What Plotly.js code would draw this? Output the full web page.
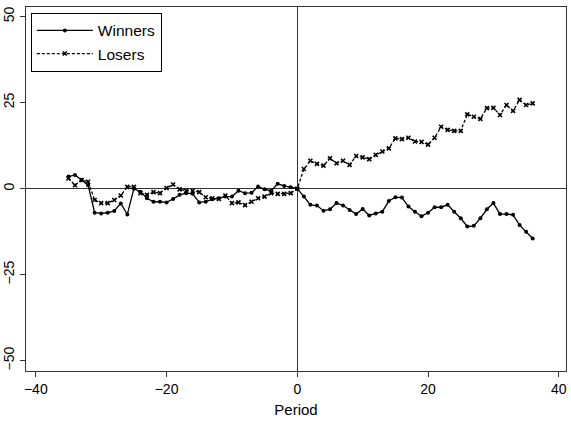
<!DOCTYPE html>
<html>
<head>
<meta charset="utf-8">
<script src="https://cdn.plot.ly/plotly-3.0.1.min.js"></script>
<style>html,body{margin:0;padding:0;background:#fff;}#chart{width:571px;height:423px;}</style>
</head>
<body>
<div id="chart"></div>
<script>
const periods = [-35,-34,-33,-32,-31,-30,-29,-28,-27,-26,-25,-24,-23,-22,-21,-20,-19,-18,-17,-16,-15,-14,-13,-12,-11,-10,-9,-8,-7,-6,-5,-4,-3,-2,-1,0,1,2,3,4,5,6,7,8,9,10,11,12,13,14,15,16,17,18,19,20,21,22,23,24,25,26,27,28,29,30,31,32,33,34,35,36];
const winners = [3.5,4,2.5,1,-7,-7.2,-7,-6.5,-4.3,-7.5,0,-0.9,-2.8,-3.8,-3.8,-4,-3,-1.8,-1.3,-1.5,-4,-3.8,-3.1,-2.8,-2.3,-2.3,-0.6,-1.3,-1.2,0.6,-0.2,-0.6,1.4,0.8,0.4,0,-2.3,-4.7,-4.9,-6.4,-6,-4.2,-4.9,-6.2,-7.4,-5.9,-7.8,-7.2,-6.7,-3.6,-2.5,-2.6,-5.2,-6.7,-8,-7,-5.4,-5.4,-4.7,-6.7,-8.6,-11,-10.8,-8.6,-6,-4.2,-7.4,-7.4,-7.6,-10.6,-12.5,-14.5];
const losers = [3,1,2.5,2,-3.3,-4.2,-4.2,-3.3,-2,0.5,0.5,-1.3,-1.8,-1,-1.3,0.2,1.2,-0.2,-0.6,-0.6,-1,-2.5,-2.8,-3,-2,-4.2,-4,-4.8,-3.8,-2.8,-2.3,-1.3,-1.5,-1.5,-1.3,0,5.7,8.1,7.2,6.7,8.8,7.4,8.1,6.9,9.5,9.1,8.6,9.8,10.8,11.7,14.6,14.4,14.8,13.7,13.6,12.8,14.8,18,17.1,16.8,16.8,21.6,20.9,20.3,23.4,23.5,21.4,24.3,22.6,25.8,24.3,24.8];
const xTicks = [-40,-20,0,20,40];
const yTicks = [-50,-25,0,25,50];

const font = "Liberation Sans, Arial, Helvetica, sans-serif";
const data = [
  {x: periods, y: winners, name: "Winners", type: "scatter", mode: "lines+markers",
   line: {color: "#000", width: 1.3}, marker: {symbol: "circle", size: 4, color: "#000"}},
  {x: periods, y: losers, name: "Losers", type: "scatter", mode: "lines+markers",
   line: {color: "#000", width: 1.3, dash: "3px,2px"}, marker: {symbol: "x-thin-open", size: 4, color: "#000", line: {width: 1.6, color: "#000"}}}
];
const layout = {
  width: 571, height: 423,
  margin: {l: 26, r: 5, t: 7, b: 52},
  paper_bgcolor: "#fff", plot_bgcolor: "#fff",
  font: {family: font, color: "#000", size: 14},
  showlegend: true,
  legend: {x: 0.009, y: 0.984, xanchor: "left", yanchor: "top", bordercolor: "#000", borderwidth: 1,
           bgcolor: "#fff", font: {size: 15.5, family: font}, itemwidth: 56, tracegroupgap: 0},
  xaxis: {range: [-41.5, 41.1], tickvals: xTicks, ticktext: xTicks.map(v => v < 0 ? "\u2212" + Math.abs(v) : String(v)),
          showgrid: false, zeroline: true, zerolinecolor: "#333", zerolinewidth: 1.2,
          showline: true, mirror: true, linecolor: "#333", linewidth: 1,
          ticks: "outside", ticklen: 5, tickcolor: "#333", tickfont: {size: 14},
          title: {text: "Period", font: {size: 15}, standoff: 8}},
  yaxis: {range: [-53, 52.8], tickvals: yTicks, ticktext: yTicks.map(v => v < 0 ? "\u2212" + Math.abs(v) : String(v)),
          tickangle: -90, showgrid: false, zeroline: true, zerolinecolor: "#333", zerolinewidth: 1.2,
          showline: true, mirror: true, linecolor: "#333", linewidth: 1,
          ticks: "outside", ticklen: 5, tickcolor: "#333", tickfont: {size: 14}}
};
Plotly.newPlot("chart", data, layout, {displayModeBar: false, staticPlot: true});
</script>
</body>
</html>
